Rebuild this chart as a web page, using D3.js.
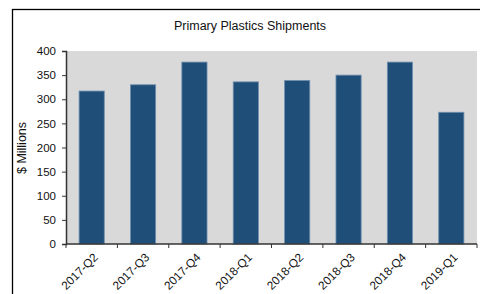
<!DOCTYPE html>
<meta charset="utf-8">
<style>
    body { margin: 0; background: #fff; }
    text { font-family: "Liberation Sans", Arial, sans-serif; fill: #111; }
</style>
<svg width="480" height="294"></svg>
<script src="https://d3js.org/d3.v7.min.js"></script>
<script>

    var quarters = ["2017-Q2", "2017-Q3", "2017-Q4", "2018-Q1", "2018-Q2", "2018-Q3", "2018-Q4", "2019-Q1"];
    var shipments = [317, 330, 377, 336, 339, 350, 377, 273];
    var yTicks = [0, 50, 100, 150, 200, 250, 300, 350, 400];

    var svg = d3.select("svg"),
        margin = {top: 51, left: 66, right: 3, bottom: 50},
        width = 480 - margin.left - margin.right,
        height = 294 - margin.top - margin.bottom;

    // outer frame
    svg.append("rect")
        .attr("x", 12.5).attr("y", 9.5)
        .attr("width", 480).attr("height", 300)
        .attr("fill", "none").attr("stroke", "#000").attr("stroke-width", 1.3);

    svg.append("text")
        .attr("x", 250).attr("y", 30)
        .attr("text-anchor", "middle")
        .style("font-size", "12.5px")
        .text("Primary Plastics Shipments");

    var g = svg.append("g").attr("transform", "translate(" + margin.left + "," + margin.top + ")");

    var x = d3.scaleBand().domain(quarters).range([0, width]).paddingInner(0.51).paddingOuter(0.255);
    var y = d3.scaleLinear().domain([0, 400]).range([height, 0]);

    g.append("rect")
        .attr("width", width).attr("height", height)
        .attr("fill", "#d9d9d9");

    g.selectAll(".bar")
        .data(shipments)
        .enter().append("rect")
        .attr("class", "bar")
        .attr("x", function(d, i) { return x(quarters[i]); })
        .attr("y", function(d) { return y(d); })
        .attr("width", x.bandwidth())
        .attr("height", function(d) { return height - y(d); })
        .attr("fill", "#1f4e79")
        .attr("stroke", "#6f8fae")
        .attr("stroke-width", 0.8);

    var yAxis = g.append("g")
        .call(d3.axisLeft(y).tickValues(yTicks).tickSize(4).tickPadding(6));
    yAxis.select(".domain").attr("stroke", "#333").attr("stroke-width", 1.5);
    yAxis.selectAll(".tick line").attr("stroke", "#333");
    yAxis.selectAll("text").style("font-size", "11.5px").attr("fill", "#111");

    // x axis: ticks sit between the categories
    var edges = d3.scaleLinear().domain([0, quarters.length]).range([0, width]);
    var xAxis = g.append("g").attr("transform", "translate(0," + height + ")");
    xAxis.append("line")
        .attr("x1", 0).attr("x2", width)
        .attr("stroke", "#333").attr("stroke-width", 1.5);
    xAxis.selectAll(".edge")
        .data(d3.range(quarters.length + 1))
        .enter().append("line")
        .attr("class", "edge")
        .attr("x1", function(d) { return edges(d); })
        .attr("x2", function(d) { return edges(d); })
        .attr("y1", 0).attr("y2", 4)
        .attr("stroke", "#333");
    xAxis.selectAll(".lab")
        .data(quarters)
        .enter().append("text")
        .attr("class", "lab")
        .attr("text-anchor", "end")
        .style("font-size", "11.8px")
        .attr("transform", function(d) {
            return "translate(" + (x(d) + x.bandwidth() / 2 + 7) + ",14) rotate(-45)";
        })
        .text(function(d) { return d; });

    svg.append("text")
        .attr("transform", "translate(26,148) rotate(-90)")
        .attr("text-anchor", "middle")
        .style("font-size", "12.5px")
        .text("$ Millions");

</script>
